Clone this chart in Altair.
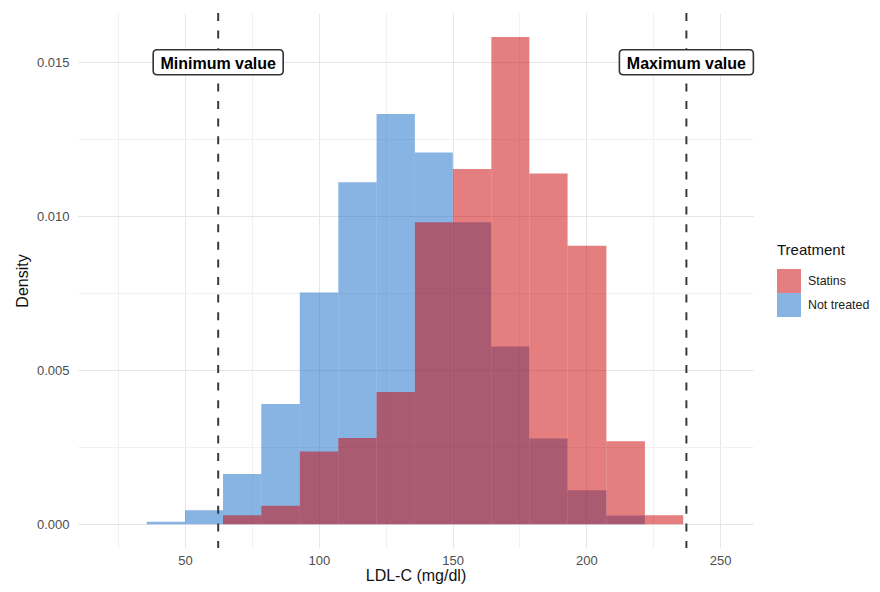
import altair as alt
import pandas as pd

# ---- data ----
bin_edges = [35.7, 50.0, 64.2, 78.5, 92.9, 107.3, 121.6, 135.9, 150.1,
             164.5, 178.7, 193.0, 207.5, 221.9, 236.2]
not_treated = [0.00008, 0.00045, 0.00163, 0.0039, 0.00752, 0.0111, 0.01332,
               0.01207, 0.0098, 0.00577, 0.00278, 0.0011, 0.00028, 0.0]
statins = [0.0, 0.0, 0.00029, 0.0006, 0.00236, 0.0028, 0.00429,
           0.0098, 0.01153, 0.01582, 0.01139, 0.00904, 0.00269, 0.00029]
series_names = ["Statins", "Not treated"]
series_colors = ["#CC0000", "#1169C7"]

ref_values = [62.4, 237.4]
ref_labels = ["Minimum value", "Maximum value"]
ref_label_y = [0.015, 0.015]

x_ticks = [25, 50, 75, 100, 125, 150, 175, 200, 225, 250]
y_ticks = [0.0, 0.0025, 0.005, 0.0075, 0.01, 0.0125, 0.015]

# ---- tables ----
rows = []
# blue first, red afterwards so red is drawn on top
for name, vals in (("Not treated", not_treated), ("Statins", statins)):
    for i, v in enumerate(vals):
        if v > 0:
            rows.append({"x0": bin_edges[i], "x1": bin_edges[i + 1],
                         "density": v, "Treatment": name})
hist = pd.DataFrame(rows)
ann = pd.DataFrame({"x0": ref_values, "label": ref_labels, "ly": ref_label_y})

FONT = "Liberation Sans"

xscale = alt.Scale(domain=[10, 262.3], nice=False, zero=False)
yscale = alt.Scale(domain=[-0.000773, 0.016597], nice=False, zero=False)

xaxis = alt.Axis(
    title="LDL-C (mg/dl)", values=x_ticks,
    labelExpr="datum.value % 50 == 0 ? datum.label : ''",
    gridColor=alt.condition("datum.value % 50 == 0", alt.value("#E6E6E6"), alt.value("#F1F1F1")),
    labelPadding=6, titlePadding=0,
)
yaxis = alt.Axis(
    title="Density", values=y_ticks,
    labelExpr="round(datum.value * 10000) % 50 == 0 ? format(datum.value, '.3f') : ''",
    gridColor=alt.condition("round(datum.value * 10000) % 50 == 0", alt.value("#E6E6E6"), alt.value("#F1F1F1")),
    labelPadding=9, titlePadding=6,
)

bars = alt.Chart(hist).mark_rect(opacity=0.5, strokeWidth=0).encode(
    x=alt.X("x0:Q", scale=xscale, axis=xaxis),
    x2="x1:Q",
    y=alt.Y("density:Q", scale=yscale, axis=yaxis),
    y2=alt.datum(0),
    color=alt.Color(
        "Treatment:N",
        scale=alt.Scale(domain=series_names, range=series_colors),
        legend=alt.Legend(
            title="Treatment", orient="none", legendX=699, legendY=230,
            symbolType="square", symbolSize=576, symbolStrokeWidth=0,
            symbolOpacity=0.5, rowPadding=0, labelOffset=7, titlePadding=11,
            padding=0, titleFontSize=15, titleFontWeight="normal",
            titleColor="#111111", labelFontSize=12.4, labelColor="#222222",
        ),
    ),
)

rules = alt.Chart(ann).mark_rule(
    color="#3A3A3A", strokeWidth=2, strokeDash=[8, 9.6]
).encode(x=alt.X("x0:Q", scale=xscale, axis=xaxis))


def box_path(w, h, r):
    hx = 1.0
    hy = h / w
    rr = r / (w / 2)
    return (f"M{-hx + rr},{-hy} L{hx - rr},{-hy} Q{hx},{-hy} {hx},{-hy + rr} "
            f"L{hx},{hy - rr} Q{hx},{hy} {hx - rr},{hy} L{-hx + rr},{hy} "
            f"Q{-hx},{hy} {-hx},{hy - rr} L{-hx},{-hy + rr} Q{-hx},{-hy} {-hx + rr},{-hy} Z")


def box_layer(label, w):
    return alt.Chart(ann).transform_filter(alt.datum.label == label).mark_point(
        shape=box_path(w, 25, 4), size=w * w, filled=True, fill="white",
        stroke="#333333", strokeWidth=1.6, opacity=1, fillOpacity=1, strokeOpacity=1,
    ).encode(
        x=alt.X("x0:Q", scale=xscale, axis=xaxis),
        y=alt.Y("ly:Q", scale=yscale, axis=yaxis),
    )


boxes_min = box_layer("Minimum value", 130)
boxes_max = box_layer("Maximum value", 134)

texts = alt.Chart(ann).mark_text(
    font=FONT, fontSize=16, fontWeight="bold", color="#000000",
    align="center", baseline="middle", dy=2,
).encode(
    x=alt.X("x0:Q", scale=xscale, axis=xaxis),
    y=alt.Y("ly:Q", scale=yscale, axis=yaxis),
    text="label:N",
)

chart = alt.layer(bars, rules, boxes_min, boxes_max, texts).properties(
    width=675, height=535,
    autosize=alt.AutoSizeParams(type="none"),
    padding={"left": 70, "top": 5, "right": 119, "bottom": 36},
    background="white",
).configure_view(stroke=None).configure_axis(
    domain=False, ticks=False, tickSize=0,
    labelFont=FONT, labelFontSize=13, labelColor="#4D4D4D",
    titleFont=FONT, titleFontSize=16, titleFontWeight="normal", titleColor="#111111",
    gridWidth=1,
).configure_legend(labelFont=FONT, titleFont=FONT)

chart.save("out.html", embed_options={"renderer": "svg", "actions": False})
